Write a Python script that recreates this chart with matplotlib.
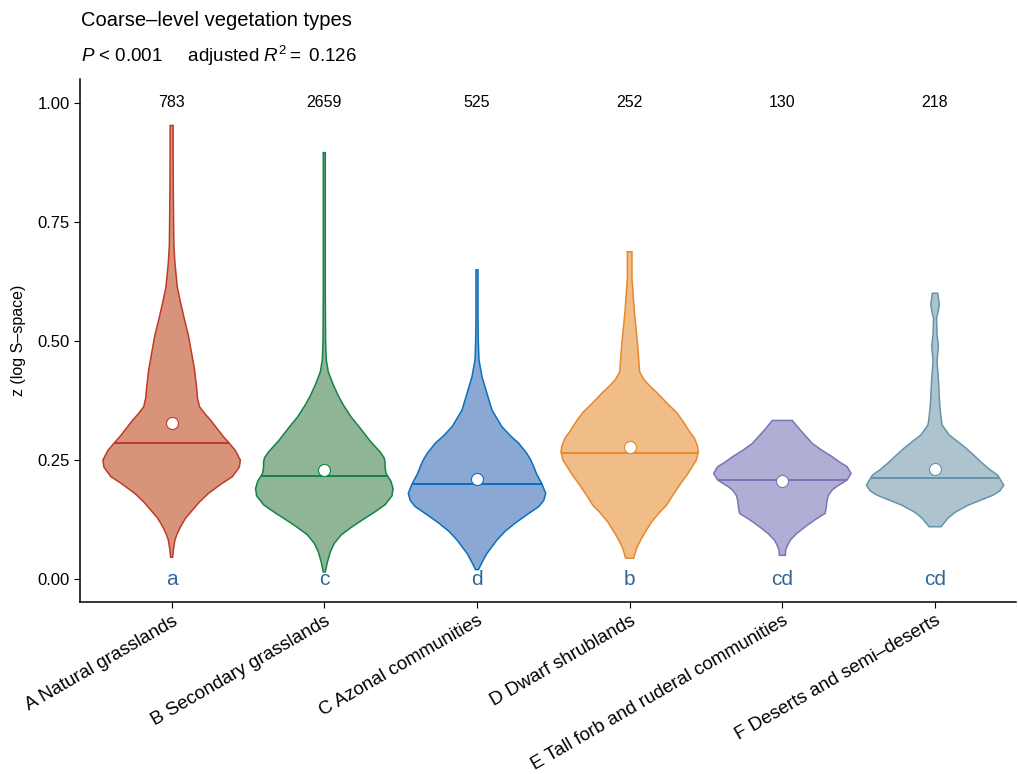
import numpy as np
import matplotlib
matplotlib.use("Agg")
import matplotlib.pyplot as plt

plt.rcParams['font.family'] = ['Liberation Sans', 'DejaVu Sans']
plt.rcParams['mathtext.fontset'] = 'custom'
plt.rcParams['mathtext.it'] = 'Liberation Sans:italic'
plt.rcParams['mathtext.rm'] = 'Liberation Sans'

# categories and group summaries
categories = ["A Natural grasslands", "B Secondary grasslands", "C Azonal communities",
              "D Dwarf shrublands", "E Tall forb and ruderal communities",
              "F Deserts and semi\u2013deserts"]
counts = [783, 2659, 525, 252, 130, 218]
letters = ["a", "c", "d", "b", "cd", "cd"]
medians = [0.286, 0.216, 0.200, 0.265, 0.208, 0.213]
means = [0.328, 0.229, 0.210, 0.277, 0.207, 0.232]

# density outlines (z level, relative density)
A_z = [0.952, 0.90, 0.82, 0.75, 0.70, 0.664, 0.613, 0.58, 0.544, 0.51, 0.475, 0.44, 0.404, 0.38,
       0.362, 0.348, 0.334, 0.315, 0.299, 0.285, 0.27, 0.25, 0.235, 0.215, 0.20, 0.18, 0.162,
       0.145, 0.128, 0.11, 0.095, 0.082, 0.065, 0.046]
A_d = [1.5, 1.5, 1.7, 2, 2.3, 3.3, 5.7, 9, 13, 17, 20, 23, 25, 26, 28, 33, 39, 46, 52, 58, 64,
       69, 68, 61, 50, 37, 28, 21, 14, 9, 5.5, 3.3, 2, 1]
B_z = [0.895, 0.80, 0.70, 0.60, 0.50, 0.46, 0.435, 0.408, 0.385, 0.366, 0.34, 0.317, 0.29, 0.267,
       0.255, 0.246, 0.235, 0.222, 0.205, 0.19, 0.175, 0.156, 0.14, 0.128, 0.11, 0.093, 0.075,
       0.057, 0.035, 0.015]
B_d = [1, 1, 1, 1, 1.3, 2, 4, 9, 14, 19, 27, 36, 46, 56, 60, 61, 61, 62, 67, 69, 68, 61, 50, 41,
       28, 17, 10, 6, 3, 1]
C_z = [0.649, 0.60, 0.55, 0.50, 0.46, 0.425, 0.39, 0.355, 0.32, 0.30, 0.285, 0.264, 0.25, 0.236,
       0.22, 0.201, 0.18, 0.165, 0.152, 0.135, 0.117, 0.10, 0.082, 0.068, 0.054, 0.035, 0.02]
C_d = [1, 1, 1, 1.3, 2, 5, 10, 15, 25, 34, 42, 50, 54, 57, 60, 65, 69, 67, 62, 50, 38, 28, 20,
       15, 10, 5, 1.5]
D_z = [0.687, 0.632, 0.561, 0.492, 0.435, 0.42, 0.408, 0.39, 0.366, 0.35, 0.33, 0.31, 0.296,
       0.28, 0.267, 0.25, 0.24, 0.22, 0.197, 0.175, 0.155, 0.14, 0.12, 0.10, 0.086, 0.065, 0.044]
D_d = [2.3, 2.3, 4.7, 8, 10, 14, 19, 28, 39, 47, 54, 60, 65, 68, 69, 67, 64, 58, 50, 43, 37, 30,
       22, 16, 12, 7, 4]
E_z = [0.333, 0.313, 0.285, 0.27, 0.257, 0.245, 0.236, 0.222, 0.208, 0.195, 0.187, 0.175, 0.166,
       0.15, 0.138, 0.125, 0.11, 0.095, 0.082, 0.07, 0.061, 0.05]
E_d = [10, 18, 30, 40, 50, 58, 65, 69, 65, 55, 50, 46, 45, 44, 43, 33, 23, 14, 8, 5, 3.3, 3]
F_z = [0.60, 0.588, 0.576, 0.56, 0.548, 0.53, 0.513, 0.50, 0.487, 0.47, 0.456, 0.43, 0.408, 0.38,
       0.359, 0.34, 0.324, 0.303, 0.29, 0.275, 0.26, 0.246, 0.23, 0.218, 0.197, 0.185, 0.176,
       0.165, 0.155, 0.14, 0.128, 0.11]
F_d = [2.7, 3.5, 4.3, 3, 1.5, 1.8, 2, 2.8, 3.3, 2.5, 2, 3, 3.7, 4.3, 5, 6, 7, 14, 22, 31, 39, 46,
       55, 63, 69, 65, 58, 45, 33, 20, 13, 6]

profiles = [(A_z, A_d), (B_z, B_d), (C_z, C_d), (D_z, D_d), (E_z, E_d), (F_z, F_d)]

fills = ["#d8947a", "#8fb596", "#8aa8d3", "#f0bc88", "#b0aed5", "#adc4cf"]
edges = ["#c0392b", "#13834b", "#0a70bb", "#e6892a", "#7a76b4", "#6594aa"]

fig = plt.figure(figsize=(10.18, 7.74), dpi=100)
ax = fig.add_axes([0.0786, 0.2222, 0.9194, 0.676])

half = 0.45
for i, (z, d) in enumerate(profiles):
    x0 = i + 1
    z = np.array(z)
    w = np.array(d) / max(d) * half
    xs = np.concatenate([x0 - w, (x0 + w)[::-1]])
    ys = np.concatenate([z, z[::-1]])
    ax.fill(xs, ys, facecolor=fills[i], edgecolor=edges[i], lw=1.1, zorder=2)
    wm = np.interp(medians[i], z[::-1], w[::-1])
    ax.plot([x0 - wm, x0 + wm], [medians[i], medians[i]], color=edges[i], lw=1.4, zorder=3,
            solid_capstyle='butt')
    ax.scatter([x0], [means[i]], s=75, facecolor="white", edgecolor=edges[i], lw=0.8, zorder=4)
    ax.text(x0, 1.0, str(counts[i]), ha="center", va="center", fontsize=11.5)
    ax.text(x0, 0.0, letters[i], ha="center", va="center", fontsize=15, color="#33679a")

ax.set_xlim(0.4, 6.53)
ax.set_ylim(-0.048, 1.05)
ax.set_xticks(range(1, 7))
ax.set_xticklabels(categories, rotation=30, ha="right", rotation_mode="anchor", fontsize=13.5)
ax.set_yticks([0, 0.25, 0.5, 0.75, 1.0])
ax.set_yticklabels(["0.00", "0.25", "0.50", "0.75", "1.00"], fontsize=12)
ax.tick_params(length=4, width=0.8, colors="black")
ax.spines["top"].set_visible(False)
ax.spines["right"].set_visible(False)
ax.spines["left"].set_linewidth(1.1)
ax.spines["bottom"].set_linewidth(1.1)
ax.set_ylabel("z (log S\u2013space)", fontsize=11.5, labelpad=8)

fig.text(0.0796, 0.973, "Coarse\u2013level vegetation types", fontsize=14.5, va="center")
fig.text(0.0796, 0.928, r"$P$ < 0.001     adjusted $R^2 =$ 0.126", fontsize=13.5, va="center")

fig.savefig("out.png", dpi=100)
